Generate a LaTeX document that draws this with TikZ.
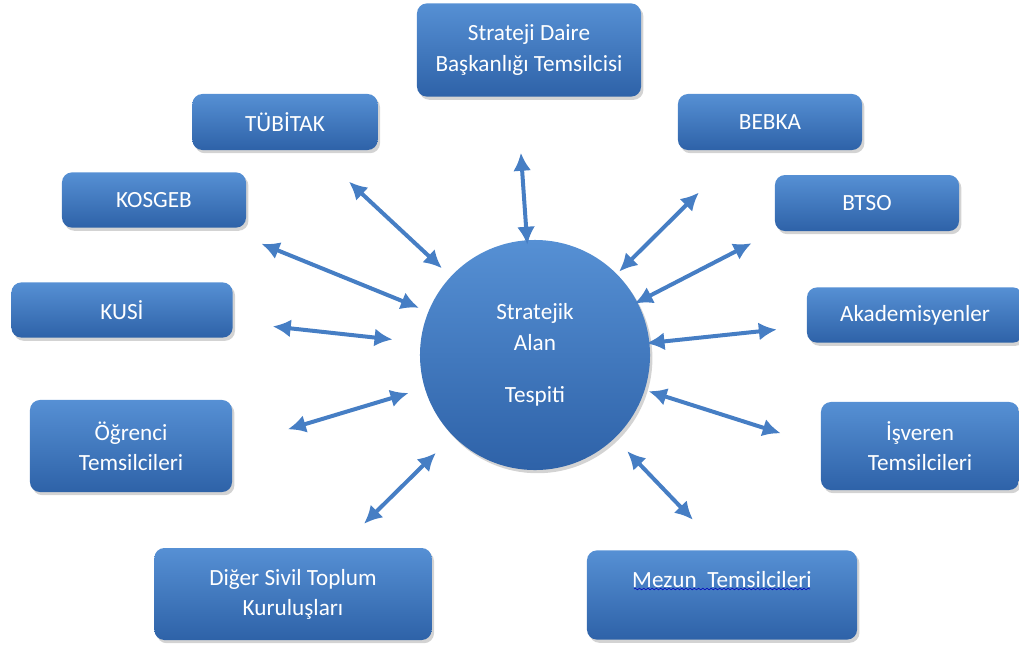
\documentclass[tikz,border=0pt]{standalone}
\usepackage{fontspec}
\setmainfont{Carlito}
\usetikzlibrary{arrows.meta,shadows,decorations.pathmorphing}
\definecolor{kutuust}{RGB}{86,144,212}
\definecolor{kutualt}{RGB}{46,98,168}
\definecolor{okmavi}{RGB}{70,126,196}

\begin{document}
\begin{tikzpicture}[x=0.025cm, y=-0.025cm,
    kutu/.style={rounded corners=0.25cm, top color=kutuust, bottom color=kutualt,
        drop shadow={shadow xshift=0.06cm, shadow yshift=-0.08cm, opacity=0.35},
        text=white, font=\fontsize{16.5}{21.5}\selectfont, align=center, inner sep=2pt},
    ok/.style={{Latex[length=0.45cm,width=0.45cm]}-{Latex[length=0.45cm,width=0.45cm]},
        line width=0.1cm, draw=okmavi}]
    \useasboundingbox (0,0) rectangle (1019,647);

    % Merkez
    \node[kutu, circle, minimum size=5.75cm] (alan) at (535,355) {Stratejik\\Alan\\[0.55cm]Tespiti};

    % Kutular
    \node[kutu, minimum width=5.6cm, minimum height=2.33cm] (sdb) at (529,50) {Strateji Daire\\Başkanlığı Temsilcisi};
    \node[kutu, minimum width=4.63cm, minimum height=1.4cm] (tub) at (285,122) {TÜBİTAK};
    \node[kutu, minimum width=4.6cm, minimum height=1.4cm] (beb) at (770,122) {BEBKA};
    \node[kutu, minimum width=4.6cm, minimum height=1.38cm] (kos) at (154,200) {KOSGEB};
    \node[kutu, minimum width=4.6cm, minimum height=1.4cm] (bts) at (867,203) {BTSO};
    \node[kutu, minimum width=5.53cm, minimum height=1.38cm] (kusi) at (122,310) {KUSİ};
    \node[kutu, minimum width=5.4cm, minimum height=1.38cm] (akd) at (915,315) {Akademisyenler};
    \node[kutu, minimum width=5.05cm, minimum height=2.3cm] (ogr) at (131,446) {Öğrenci\\Temsilcileri};
    \node[kutu, minimum width=4.95cm, minimum height=2.2cm] (isv) at (920,446) {İşveren\\Temsilcileri};
    \node[kutu, minimum width=6.93cm, minimum height=2.3cm] (dsk) at (293,594) {Diğer Sivil Toplum\\Kuruluşları};
    \node[kutu, minimum width=6.75cm, minimum height=2.23cm] (mez) at (722,595) {Mezun\ \ Temsilcileri\\~};
    \draw[decorate, decoration={snake, amplitude=0.6pt, segment length=3pt}, draw=blue!75!black, thin]
        ([xshift=-2.2cm, yshift=0.15cm]mez.center) -- ([xshift=2.2cm, yshift=0.15cm]mez.center);

    % Oklar
    \draw[ok, shorten <=-0.12cm, shorten >=1.4cm] (alan) -- ([xshift=-0.3cm]sdb.south);
    \draw[ok, shorten <=0.3cm, shorten >=1.15cm] (alan) -- (tub);
    \draw[ok, shorten <=0.25cm, shorten >=1.05cm] (alan) -- (kos);
    \draw[ok, shorten <=0.7cm, shorten >=1cm] (alan) -- (kusi);
    \draw[ok, shorten <=0.42cm, shorten >=1.45cm] (alan) -- (ogr.east);
    \draw[ok, shorten <=0.6cm, shorten >=0.85cm] (alan) -- (dsk);
    \draw[ok, shorten <=0.45cm, shorten >=1.05cm] (alan) -- (mez.north);
    \draw[ok, shorten <=0.1cm, shorten >=1.05cm] (alan) -- (isv.west);
    \draw[ok, shorten <=-0.08cm, shorten >=0.75cm] (alan) -- (akd);
    \draw[ok, shorten <=-0.08cm, shorten >=0.65cm] (alan) -- (bts.south west);
    \draw[ok, shorten <=0.08cm, shorten >=1.5cm] (alan) -- (beb);
\end{tikzpicture}
\end{document}
